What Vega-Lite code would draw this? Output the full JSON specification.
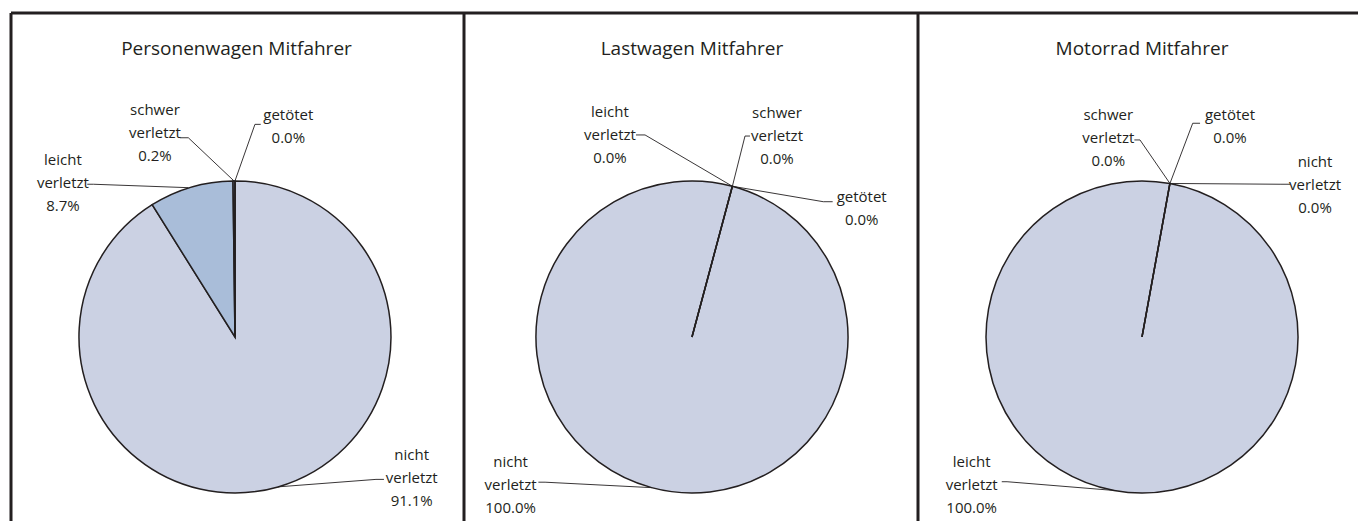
{
  "$schema": "https://vega.github.io/schema/vega-lite/v6.json",
  "padding": {"left": 10.5, "top": 12.5, "right": 0, "bottom": 0},
  "background": "white",
  "config": {
    "view": {"stroke": null},
    "concat": {"spacing": 0},
    "font": "Open Sans",
    "axis": {"domain": true, "domainColor": "#231f20", "domainWidth": 3, "ticks": false, "labels": false, "grid": false, "title": null},
    "title": {"font": "Open Sans", "fontSize": 19, "fontWeight": "normal", "color": "#231f20", "anchor": "middle", "baseline": "alphabetic"}
  },
  "datasets": {
    "slices": [
      {"panel": "P", "category": "nicht verletzt", "value": 91.1, "idx": 1},
      {"panel": "P", "category": "leicht verletzt", "value": 8.7, "idx": 2},
      {"panel": "P", "category": "schwer verletzt", "value": 0.2, "idx": 3},
      {"panel": "P", "category": "getötet", "value": 0.0, "idx": 4},
      {"panel": "L", "category": "nicht verletzt", "value": 100.0, "idx": 1},
      {"panel": "L", "category": "leicht verletzt", "value": 0.0, "idx": 2},
      {"panel": "L", "category": "schwer verletzt", "value": 0.0, "idx": 3},
      {"panel": "L", "category": "getötet", "value": 0.0, "idx": 4},
      {"panel": "M", "category": "leicht verletzt", "value": 100.0, "idx": 1},
      {"panel": "M", "category": "schwer verletzt", "value": 0.0, "idx": 2},
      {"panel": "M", "category": "getötet", "value": 0.0, "idx": 3},
      {"panel": "M", "category": "nicht verletzt", "value": 0.0, "idx": 4}
    ],
    "labels": [
      {"panel": "P", "category": "getötet", "label": "getötet\n0.0%", "x": 34.2, "y": 142.3},
      {"panel": "P", "category": "schwer verletzt", "label": "schwer\nverletzt\n0.2%", "x": -51.3, "y": 145.3},
      {"panel": "P", "category": "leicht verletzt", "label": "leicht\nverletzt\n8.7%", "x": -110.3, "y": 113.5},
      {"panel": "P", "category": "nicht verletzt", "label": "nicht\nverletzt\n91.1%", "x": 113.3, "y": -75.6},
      {"panel": "L", "category": "leicht verletzt", "label": "leicht\nverletzt\n0.0%", "x": -52.6, "y": 144.4},
      {"panel": "L", "category": "schwer verletzt", "label": "schwer\nverletzt\n0.0%", "x": 54.5, "y": 143.6},
      {"panel": "L", "category": "getötet", "label": "getötet\n0.0%", "x": 108.8, "y": 89.9},
      {"panel": "L", "category": "nicht verletzt", "label": "nicht\nverletzt\n100.0%", "x": -116.3, "y": -79.9},
      {"panel": "M", "category": "schwer verletzt", "label": "schwer\nverletzt\n0.0%", "x": -21.6, "y": 142.3},
      {"panel": "M", "category": "getötet", "label": "getötet\n0.0%", "x": 56.4, "y": 142.3},
      {"panel": "M", "category": "nicht verletzt", "label": "nicht\nverletzt\n0.0%", "x": 110.9, "y": 112.4},
      {"panel": "M", "category": "leicht verletzt", "label": "leicht\nverletzt\n100.0%", "x": -109.2, "y": -79.9}
    ],
    "leaders": [
      {"panel": "P", "category": "getötet", "pt": 1, "x": 16.5, "y": 136.3},
      {"panel": "P", "category": "getötet", "pt": 2, "x": 12.8, "y": 136.3},
      {"panel": "P", "category": "getötet", "pt": 3, "x": 0.0, "y": 100.0},
      {"panel": "P", "category": "schwer verletzt", "pt": 1, "x": -35.3, "y": 127.7},
      {"panel": "P", "category": "schwer verletzt", "pt": 2, "x": -29.9, "y": 127.7},
      {"panel": "P", "category": "schwer verletzt", "pt": 3, "x": -0.6, "y": 100.0},
      {"panel": "P", "category": "leicht verletzt", "pt": 1, "x": -94.7, "y": 97.9},
      {"panel": "P", "category": "leicht verletzt", "pt": 2, "x": -90.8, "y": 97.9},
      {"panel": "P", "category": "leicht verletzt", "pt": 3, "x": -29.9, "y": 95.7},
      {"panel": "P", "category": "nicht verletzt", "pt": 1, "x": 95.5, "y": -91.3},
      {"panel": "P", "category": "nicht verletzt", "pt": 2, "x": 90.4, "y": -91.3},
      {"panel": "P", "category": "nicht verletzt", "pt": 3, "x": 27.6, "y": -96.1},
      {"panel": "L", "category": "leicht verletzt", "pt": 1, "x": -35.9, "y": 129.5},
      {"panel": "L", "category": "leicht verletzt", "pt": 2, "x": -30.1, "y": 129.5},
      {"panel": "L", "category": "leicht verletzt", "pt": 3, "x": 25.9, "y": 96.6},
      {"panel": "L", "category": "schwer verletzt", "pt": 1, "x": 37.2, "y": 128.8},
      {"panel": "L", "category": "schwer verletzt", "pt": 2, "x": 34.0, "y": 128.8},
      {"panel": "L", "category": "schwer verletzt", "pt": 3, "x": 25.9, "y": 96.6},
      {"panel": "L", "category": "getötet", "pt": 1, "x": 90.2, "y": 86.7},
      {"panel": "L", "category": "getötet", "pt": 2, "x": 84.2, "y": 86.7},
      {"panel": "L", "category": "getötet", "pt": 3, "x": 25.9, "y": 96.6},
      {"panel": "L", "category": "nicht verletzt", "pt": 1, "x": -98.5, "y": -93.1},
      {"panel": "L", "category": "nicht verletzt", "pt": 2, "x": -94.2, "y": -93.1},
      {"panel": "L", "category": "nicht verletzt", "pt": 3, "x": -25.9, "y": -96.6},
      {"panel": "M", "category": "schwer verletzt", "pt": 1, "x": -4.9, "y": 126.3},
      {"panel": "M", "category": "schwer verletzt", "pt": 2, "x": -1.3, "y": 126.3},
      {"panel": "M", "category": "schwer verletzt", "pt": 3, "x": 17.9, "y": 98.4},
      {"panel": "M", "category": "getötet", "pt": 1, "x": 37.2, "y": 137.0},
      {"panel": "M", "category": "getötet", "pt": 2, "x": 32.5, "y": 137.0},
      {"panel": "M", "category": "getötet", "pt": 3, "x": 17.9, "y": 98.4},
      {"panel": "M", "category": "nicht verletzt", "pt": 1, "x": 94.9, "y": 97.9},
      {"panel": "M", "category": "nicht verletzt", "pt": 2, "x": 88.5, "y": 97.9},
      {"panel": "M", "category": "nicht verletzt", "pt": 3, "x": 17.9, "y": 98.4},
      {"panel": "M", "category": "leicht verletzt", "pt": 1, "x": -89.9, "y": -92.8},
      {"panel": "M", "category": "leicht verletzt", "pt": 2, "x": -86.5, "y": -92.8},
      {"panel": "M", "category": "leicht verletzt", "pt": 3, "x": -17.9, "y": -98.4}
    ]
  },
  "resolve": {"scale": {"color": "independent", "theta": "independent", "x": "independent", "y": "independent"}},
  "hconcat": [
    {
      "width": 453, "height": 509,
      "title": {"text": "Personenwagen Mitfahrer", "offset": -46, "dx": -0.5},
      "layer": [
        {
          "data": {"name": "slices"},
          "transform": [{"filter": "datum.panel == 'P'"}],
          "mark": {"type": "arc", "outerRadius": 156, "stroke": "#231f20", "strokeWidth": 1.5},
          "encoding": {
            "x": {"datum": 0, "type": "quantitative", "scale": {"domain": [-143.9, 146.5], "nice": false, "zero": false}, "axis": {"orient": "top"}},
            "y": {"datum": 0, "type": "quantitative", "scale": {"domain": [-118.3, 208.0], "nice": false, "zero": false}, "axis": {"orient": "left"}},
            "theta": {"field": "value", "type": "quantitative", "stack": true, "scale": {"range": [0, 6.2832]}},
            "order": {"field": "idx", "type": "quantitative"},
            "color": {"field": "category", "type": "nominal", "legend": null, "scale": {"domain": ["nicht verletzt", "leicht verletzt", "schwer verletzt", "getötet"], "range": ["#cbd1e3", "#a9bdd9", "#7e93ba", "#4d6491"]}}
          }
        },
        {
          "data": {"name": "leaders"},
          "transform": [{"filter": "datum.panel == 'P'"}],
          "mark": {"type": "line", "color": "#231f20", "strokeWidth": 0.9},
          "encoding": {
            "x": {"field": "x", "type": "quantitative", "axis": {"orient": "top"}},
            "y": {"field": "y", "type": "quantitative", "axis": {"orient": "left"}},
            "detail": {"field": "category"},
            "order": {"field": "pt", "type": "quantitative"}
          }
        },
        {
          "data": {"name": "labels"},
          "transform": [{"filter": "datum.panel == 'P'"}],
          "mark": {"type": "text", "font": "Open Sans", "fontSize": 15, "lineHeight": 23, "lineBreak": "\n", "align": "center", "baseline": "middle", "color": "#231f20"},
          "encoding": {
            "x": {"field": "x", "type": "quantitative", "axis": {"orient": "top"}},
            "y": {"field": "y", "type": "quantitative", "axis": {"orient": "left"}},
            "text": {"field": "label", "type": "nominal"}
          }
        }
      ]
    },
    {
      "width": 454, "height": 509,
      "title": {"text": "Lastwagen Mitfahrer", "offset": -46, "dx": 1.5},
      "layer": [
        {
          "data": {"name": "slices"},
          "transform": [{"filter": "datum.panel == 'L'"}],
          "mark": {"type": "arc", "outerRadius": 156, "stroke": "#231f20", "strokeWidth": 1.5},
          "encoding": {
            "x": {"datum": 0, "type": "quantitative", "scale": {"domain": [-146.5, 144.6], "nice": false, "zero": false}, "axis": {"orient": "top"}},
            "y": {"datum": 0, "type": "quantitative", "scale": {"domain": [-118.3, 208.0], "nice": false, "zero": false}, "axis": {"orient": "left"}},
            "theta": {"field": "value", "type": "quantitative", "stack": true, "scale": {"range": [0.2618, 6.545]}},
            "order": {"field": "idx", "type": "quantitative"},
            "color": {"field": "category", "type": "nominal", "legend": null, "scale": {"domain": ["nicht verletzt", "leicht verletzt", "schwer verletzt", "getötet"], "range": ["#cbd1e3", "#a9bdd9", "#7e93ba", "#4d6491"]}}
          }
        },
        {
          "data": {"name": "leaders"},
          "transform": [{"filter": "datum.panel == 'L'"}],
          "mark": {"type": "line", "color": "#231f20", "strokeWidth": 0.9},
          "encoding": {
            "x": {"field": "x", "type": "quantitative", "axis": {"orient": "top"}},
            "y": {"field": "y", "type": "quantitative", "axis": {"orient": "left"}},
            "detail": {"field": "category"},
            "order": {"field": "pt", "type": "quantitative"}
          }
        },
        {
          "data": {"name": "labels"},
          "transform": [{"filter": "datum.panel == 'L'"}],
          "mark": {"type": "text", "font": "Open Sans", "fontSize": 15, "lineHeight": 23, "lineBreak": "\n", "align": "center", "baseline": "middle", "color": "#231f20"},
          "encoding": {
            "x": {"field": "x", "type": "quantitative", "axis": {"orient": "top"}},
            "y": {"field": "y", "type": "quantitative", "axis": {"orient": "left"}},
            "text": {"field": "label", "type": "nominal"}
          }
        }
      ]
    },
    {
      "width": 442, "height": 509,
      "title": {"text": "Motorrad Mitfahrer", "offset": -46, "dx": 3.5},
      "layer": [
        {
          "data": {"name": "slices"},
          "transform": [{"filter": "datum.panel == 'M'"}],
          "mark": {"type": "arc", "outerRadius": 156, "stroke": "#231f20", "strokeWidth": 1.5},
          "encoding": {
            "x": {"datum": 0, "type": "quantitative", "scale": {"domain": [-143.9, 139.4], "nice": false, "zero": false}, "axis": {"orient": "top"}},
            "y": {"datum": 0, "type": "quantitative", "scale": {"domain": [-118.3, 208.0], "nice": false, "zero": false}, "axis": {"orient": "left"}},
            "theta": {"field": "value", "type": "quantitative", "stack": true, "scale": {"range": [0.1798, 6.463]}},
            "order": {"field": "idx", "type": "quantitative"},
            "color": {"field": "category", "type": "nominal", "legend": null, "scale": {"domain": ["leicht verletzt", "schwer verletzt", "getötet", "nicht verletzt"], "range": ["#cbd1e3", "#7e93ba", "#4d6491", "#a9bdd9"]}}
          }
        },
        {
          "data": {"name": "leaders"},
          "transform": [{"filter": "datum.panel == 'M'"}],
          "mark": {"type": "line", "color": "#231f20", "strokeWidth": 0.9},
          "encoding": {
            "x": {"field": "x", "type": "quantitative", "axis": {"orient": "top"}},
            "y": {"field": "y", "type": "quantitative", "axis": {"orient": "left"}},
            "detail": {"field": "category"},
            "order": {"field": "pt", "type": "quantitative"}
          }
        },
        {
          "data": {"name": "labels"},
          "transform": [{"filter": "datum.panel == 'M'"}],
          "mark": {"type": "text", "font": "Open Sans", "fontSize": 15, "lineHeight": 23, "lineBreak": "\n", "align": "center", "baseline": "middle", "color": "#231f20"},
          "encoding": {
            "x": {"field": "x", "type": "quantitative", "axis": {"orient": "top"}},
            "y": {"field": "y", "type": "quantitative", "axis": {"orient": "left"}},
            "text": {"field": "label", "type": "nominal"}
          }
        }
      ]
    }
  ]
}
